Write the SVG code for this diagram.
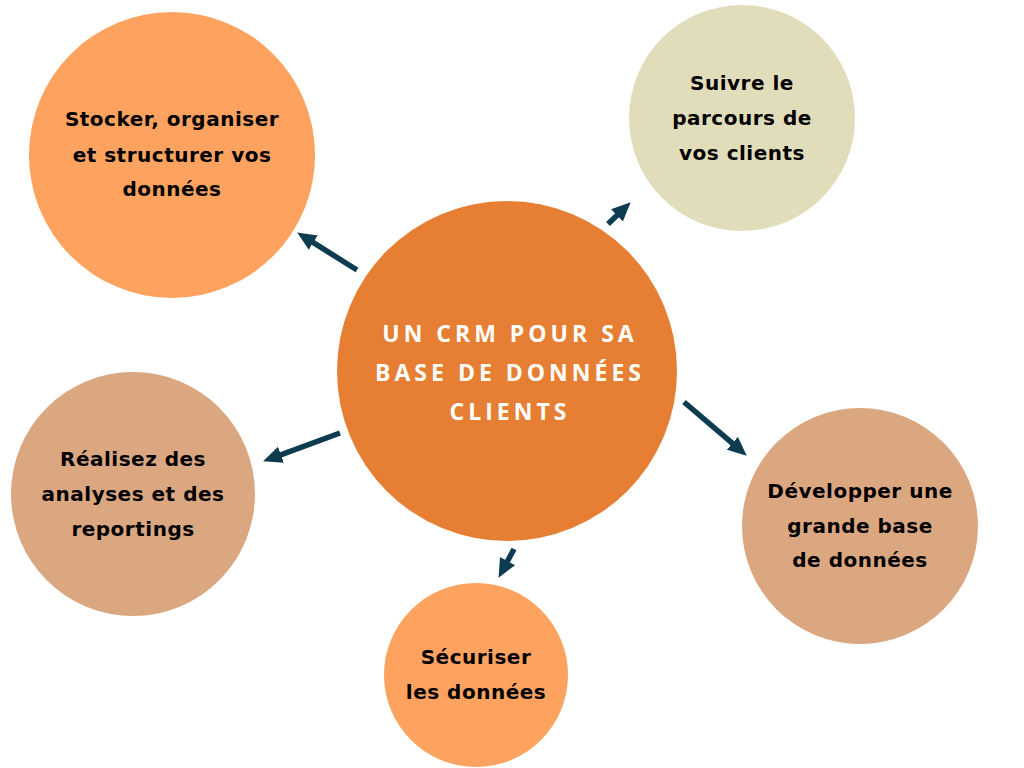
<svg xmlns="http://www.w3.org/2000/svg" width="1024" height="768" viewBox="0 0 1024 768">
  <defs>
    <marker id="ah" markerUnits="userSpaceOnUse" markerWidth="20" markerHeight="18" refX="6" refY="8.5" orient="auto">
      <path d="M0,0 L19,8.5 L0,17 z" fill="#0d3c50"/>
    </marker>
    <style>
      .lbl { font-family: "DejaVu Sans", "Open Sans", sans-serif; font-weight: 700; font-size: 20px; fill: #000; text-anchor: middle; dominant-baseline: central; letter-spacing: 0.5px; }
      .title { font-family: "Open Sans", "Liberation Sans", sans-serif; font-weight: 700; font-size: 23px; fill: #fff; text-anchor: middle; dominant-baseline: central; letter-spacing: 4px; }
      .conn { stroke: #0d3c50; stroke-width: 5.5; fill: none; marker-end: url(#ah); }
    </style>
  </defs>
  <rect width="1024" height="768" fill="#fff"/>

  <g id="node-stocker">
    <circle cx="172" cy="155" r="143" fill="#fea35f"/>
    <text class="lbl" x="172" y="119">Stocker, organiser</text>
    <text class="lbl" x="172" y="155">et structurer vos</text>
    <text class="lbl" x="172" y="189">données</text>
  </g>

  <g id="node-suivre">
    <circle cx="742" cy="118" r="113" fill="#e1dcba"/>
    <text class="lbl" x="742" y="83">Suivre le</text>
    <text class="lbl" x="742" y="118">parcours de</text>
    <text class="lbl" x="742" y="153">vos clients</text>
  </g>

  <g id="node-realisez">
    <circle cx="133" cy="494" r="122" fill="#dba781"/>
    <text class="lbl" x="133" y="459">Réalisez des</text>
    <text class="lbl" x="133" y="494">analyses et des</text>
    <text class="lbl" x="133" y="529">reportings</text>
  </g>

  <g id="node-developper">
    <circle cx="860" cy="526" r="118" fill="#dba781"/>
    <text class="lbl" x="860" y="491">Développer une</text>
    <text class="lbl" x="860" y="526">grande base</text>
    <text class="lbl" x="860" y="560">de données</text>
  </g>

  <g id="node-securiser">
    <circle cx="476" cy="675" r="92" fill="#fea35f"/>
    <text class="lbl" x="476" y="657">Sécuriser</text>
    <text class="lbl" x="476" y="692">les données</text>
  </g>

  <g id="node-center">
    <circle cx="507" cy="371" r="170" fill="#e67f33"/>
    <text class="title" x="510" y="333">UN CRM POUR SA</text>
    <text class="title" x="510" y="372">BASE DE DONNÉES</text>
    <text class="title" x="510" y="411">CLIENTS</text>
  </g>

  <g id="connectors">
    <line class="conn" x1="357" y1="270" x2="308.2" y2="239.4"/>
    <line class="conn" x1="608" y1="224" x2="621.3" y2="211.3"/>
    <line class="conn" x1="340" y1="433" x2="275.3" y2="456.8"/>
    <line class="conn" x1="684" y1="402" x2="736.9" y2="447.2"/>
    <line class="conn" x1="514" y1="549" x2="504.7" y2="566.4"/>
  </g>
</svg>
